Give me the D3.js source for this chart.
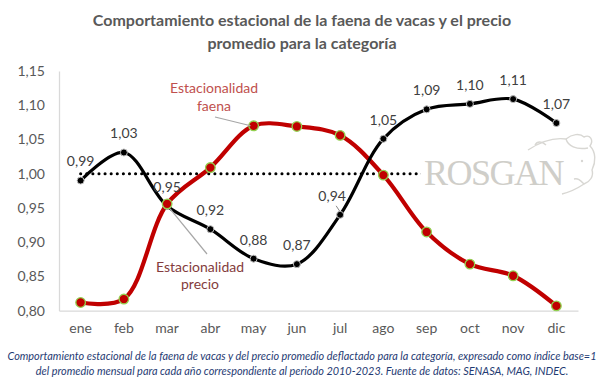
<!DOCTYPE html>
<html><head><meta charset="utf-8">
<script src="https://cdn.jsdelivr.net/npm/d3@7"></script>
<style>
body{margin:0;background:#fff;}
svg{display:block;font-family:Lato,"Open Sans",sans-serif;}
</style></head>
<body><svg id="c" width="604" height="386"></svg>
<script>
const months = ["ene","feb","mar","abr","may","jun","jul","ago","sep","oct","nov","dic"];
const precio = [0.99,1.031,0.953,0.919,0.876,0.868,0.94,1.051,1.094,1.102,1.109,1.074];
const faena = [0.812,0.817,0.956,1.009,1.07,1.069,1.056,0.998,0.915,0.868,0.851,0.807];
const base = [1,1,1,1,1,1,1,1,1,1,1,1];
const yTicks = [0.80,0.85,0.90,0.95,1.00,1.05,1.10,1.15];
const titleLines = ["Comportamiento estacional de la faena de vacas y el precio","promedio para la categoría"];
const footLines = ["Comportamiento estacional de la faena de vacas y del precio promedio deflactado para la categoría, expresado como índice base=1",
                   "del promedio mensual para cada año correspondiente al periodo 2010-2023. Fuente de datos: SENASA, MAG, INDEC."];

const svg = d3.select("#c");
const fmt = v => d3.format(".2f")(v).replace(".", ",");

const x = d3.scaleBand().domain(months).range([59, 578]).padding(0);
const cx = m => x(m) + x.bandwidth()/2;
const y = d3.scaleLinear().domain([0.80, 1.15]).range([310.7, 71]);

// title
svg.append("g").selectAll("text").data(titleLines).join("text")
  .attr("x", 302).attr("y", (d,i)=> 26 + i*23)
  .attr("text-anchor","middle").attr("font-size",16).attr("font-weight","bold")
  .attr("fill","#595959").text(d=>d);

// axes
const ya = svg.append("g").attr("transform","translate(59,0)")
  .call(d3.axisLeft(y).tickValues(yTicks).tickSize(0).tickPadding(14).tickFormat(fmt));
ya.select(".domain").attr("stroke","#D9D9D9").attr("stroke-width",1.3);
ya.selectAll("text").attr("font-size",14).attr("fill","#595959").attr("font-family","Lato,sans-serif");

const xa = svg.append("g").attr("transform","translate(0,310.7)")
  .call(d3.axisBottom(x).tickSize(0).tickPadding(12));
xa.select(".domain").attr("stroke","#D9D9D9").attr("stroke-width",1.3);
xa.selectAll("text").attr("font-size",14).attr("fill","#595959").attr("font-family","Lato,sans-serif");

// dotted base line
svg.append("path").datum(base)
  .attr("d", d3.line().x((d,i)=>cx(months[i])).y(d=>y(d)))
  .attr("fill","none").attr("stroke","#000").attr("stroke-width",3)
  .attr("stroke-linecap","round").attr("stroke-dasharray","0.1 6");

// watermark (covers base line on the right)
const wm = svg.append("g");
wm.append("rect").attr("x",421).attr("y",140).attr("width",170).attr("height",50).attr("fill","#fff");
wm.append("text").attr("x",424).attr("y",185).attr("font-family","'Liberation Serif',serif")
  .attr("font-size",36).attr("fill","#CFCEC9").attr("letter-spacing",-1.5).text("ROSGAN");
wm.append("path").attr("d",
  "M528,150 C540,142 552,137 566,139 C572,134 580,133 584,137 C590,134 594,140 590,146 C596,152 596,162 592,170 C594,176 590,182 584,184 C578,188 570,192 562,194 " +
  "M566,139 C568,146 576,150 588,148 M584,184 C580,180 578,178 574,179 M546,145 C542,141 537,141 535,145")
  .attr("fill","none").attr("stroke","#D8D7D3").attr("stroke-width",1.4);
wm.append("circle").attr("cx",582).attr("cy",161).attr("r",1.2).attr("fill","#D8D7D3");

const curve = d3.curveCatmullRom.alpha(0.5);
const line = d3.line().x((d,i)=>cx(months[i])).y(d=>y(d)).curve(curve);

// faena line
svg.append("path").datum(faena).attr("d",line)
  .attr("fill","none").attr("stroke","#C00000").attr("stroke-width",4.2);

// precio line
svg.append("path").datum(precio).attr("d",line)
  .attr("fill","none").attr("stroke","#000").attr("stroke-width",3.2);

// markers
svg.append("g").selectAll("circle").data(precio).join("circle")
  .attr("cx",(d,i)=>cx(months[i])).attr("cy",d=>y(d)).attr("r",3.5)
  .attr("fill","#000").attr("stroke","#BFBFBF").attr("stroke-width",1);
svg.append("g").selectAll("circle").data(faena).join("circle")
  .attr("cx",(d,i)=>cx(months[i])).attr("cy",d=>y(d)).attr("r",4.8)
  .attr("fill","#C00000").attr("stroke","#92D050").attr("stroke-width",1.3);

// data labels precio
const dx = [0,0,0,0,0,0,-8,0,0,0,0,0];
svg.append("g").selectAll("text").data(precio).join("text")
  .attr("x",(d,i)=>cx(months[i])+dx[i]).attr("y",d=>y(d)-19)
  .attr("dy","0.35em").attr("text-anchor","middle")
  .attr("font-size",14).attr("fill","#404040").text(fmt);
// small leader for jul label
svg.append("line").attr("x1",cx("jul")-4).attr("y1",y(precio[6])-9).attr("x2",cx("jul")).attr("y2",y(precio[6])-3)
  .attr("stroke","#888").attr("stroke-width",1);

// annotations
svg.append("line").attr("x1",215).attr("y1",117).attr("x2",cx("may")-3).attr("y2",y(faena[4])).attr("stroke","#A6A6A6").attr("stroke-width",1.2);
svg.append("g").selectAll("text").data(["Estacionalidad","faena"]).join("text")
  .attr("x",214).attr("y",(d,i)=>88+i*18).attr("dy","0.35em").attr("text-anchor","middle")
  .attr("font-size",14).attr("fill","#C0504D").text(d=>d);

svg.append("line").attr("x1",cx("mar")+3).attr("y1",y(precio[2])+3).attr("x2",207).attr("y2",254).attr("stroke","#A6A6A6").attr("stroke-width",1.2);
svg.append("g").selectAll("text").data(["Estacionalidad","precio"]).join("text")
  .attr("x",200).attr("y",(d,i)=>267+i*17).attr("dy","0.35em").attr("text-anchor","middle")
  .attr("font-size",14).attr("fill","#843C3C").text(d=>d);

// footer
svg.append("g").selectAll("text").data(footLines).join("text")
  .attr("x",302).attr("y",(d,i)=>360+i*15).attr("text-anchor","middle")
  .attr("font-size",10.9).attr("font-style","italic").attr("fill","#1F3B73").text(d=>d);
</script></body></html>
